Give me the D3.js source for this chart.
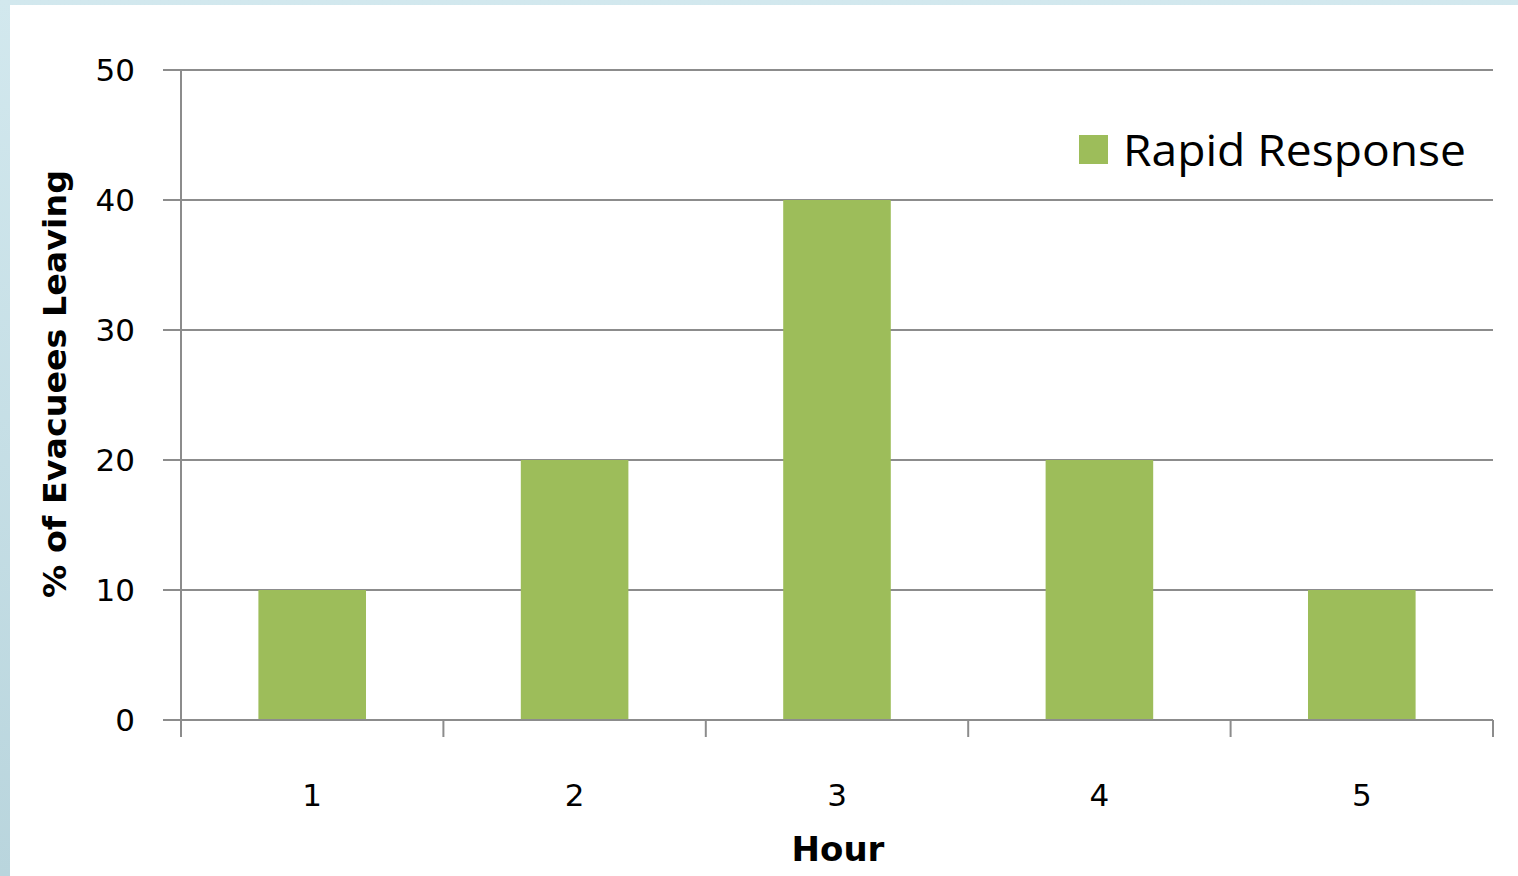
<!DOCTYPE html>
<html>
<head>
<meta charset="utf-8">
<script src="https://cdn.jsdelivr.net/npm/d3@7"></script>
<style>
  html, body { margin: 0; padding: 0; background: #fff; }
  svg { display: block; }
</style>
</head>
<body>
<script>
// Share of evacuees leaving in each hour after the warning
const hours = ["1", "2", "3", "4", "5"];
const rapidResponse = [10, 20, 40, 20, 10];
const yTicks = [0, 10, 20, 30, 40, 50];
const seriesName = "Rapid Response";

const W = 1518, H = 876;
const plot = { left: 181, right: 1493, top: 70, bottom: 720 };

const svg = d3.select("body").append("svg").attr("width", W).attr("height", H);

// light blue frame on the top and left edges
const grad = svg.append("defs").append("linearGradient")
  .attr("id", "frame").attr("x1", 0).attr("y1", 0).attr("x2", 0).attr("y2", 1);
grad.append("stop").attr("offset", "0%").attr("stop-color", "#d2e8ee");
grad.append("stop").attr("offset", "100%").attr("stop-color", "#b9d5dd");
svg.append("rect").attr("x", 0).attr("y", 0).attr("width", W).attr("height", H).attr("fill", "url(#frame)");
svg.append("rect").attr("x", 10).attr("y", 5).attr("width", W - 10).attr("height", H - 5).attr("fill", "#fff");

const x = d3.scaleBand().domain(hours).range([plot.left, plot.right]).paddingInner(0.59).paddingOuter(0.295);
const xb = d3.scaleBand().domain(hours).range([plot.left, plot.right]);
const y = d3.scaleLinear().domain([0, 50]).range([plot.bottom, plot.top]);

const gridColor = "#8c8c8c";

// horizontal gridlines (extending left as tick marks)
svg.append("g").selectAll("line").data(yTicks).join("line")
  .attr("x1", plot.left - 18).attr("x2", plot.right)
  .attr("y1", d => y(d)).attr("y2", d => y(d))
  .attr("stroke", gridColor).attr("stroke-width", 2);

// bars
svg.append("g").selectAll("rect").data(hours).join("rect")
  .attr("x", d => x(d)).attr("width", x.bandwidth())
  .attr("y", (d, i) => y(rapidResponse[i]))
  .attr("height", (d, i) => y(0) - y(rapidResponse[i]))
  .attr("fill", "#9dbd5a");

// vertical axis line
svg.append("line").attr("x1", plot.left).attr("x2", plot.left)
  .attr("y1", plot.top).attr("y2", plot.bottom + 17)
  .attr("stroke", gridColor).attr("stroke-width", 2);

// category boundary ticks
const bounds = hours.map(h => xb(h)).concat([plot.right]);
svg.append("g").selectAll("line").data(bounds.slice(1)).join("line")
  .attr("x1", d => d).attr("x2", d => d)
  .attr("y1", plot.bottom).attr("y2", plot.bottom + 17)
  .attr("stroke", gridColor).attr("stroke-width", 2);

// baseline redrawn over bars
svg.append("line").attr("x1", plot.left - 18).attr("x2", plot.right)
  .attr("y1", y(0)).attr("y2", y(0))
  .attr("stroke", gridColor).attr("stroke-width", 2);

const font = "'DejaVu Sans', sans-serif";

// y tick labels
svg.append("g").selectAll("text").data(yTicks).join("text")
  .attr("x", 135).attr("y", d => y(d) + 11)
  .attr("text-anchor", "end")
  .attr("font-family", font).attr("font-size", 31)
  .attr("fill", "#000").text(d => d);

// x tick labels
svg.append("g").selectAll("text").data(hours).join("text")
  .attr("x", d => xb(d) + xb.bandwidth() / 2).attr("y", 806)
  .attr("text-anchor", "middle")
  .attr("font-family", font).attr("font-size", 31)
  .attr("fill", "#000").text(d => d);

// axis titles
svg.append("text")
  .attr("x", (plot.left + plot.right) / 2 + 1).attr("y", 861)
  .attr("text-anchor", "middle")
  .attr("font-family", font).attr("font-size", 34).attr("font-weight", "bold")
  .attr("fill", "#000").text("Hour");

svg.append("text")
  .attr("transform", "translate(66,384) rotate(-90)")
  .attr("text-anchor", "middle")
  .attr("font-family", font).attr("font-size", 32).attr("font-weight", "bold")
  .attr("textLength", 428).attr("lengthAdjust", "spacingAndGlyphs")
  .attr("fill", "#000").text("% of Evacuees Leaving");

// legend
const legend = svg.append("g");
legend.append("rect").attr("x", 1079).attr("y", 135).attr("width", 29).attr("height", 29).attr("fill", "#9dbd5a");
legend.append("text").attr("x", 1123).attr("y", 166)
  .attr("font-family", "'Open Sans', sans-serif").attr("font-size", 44)
  .attr("textLength", 343).attr("lengthAdjust", "spacingAndGlyphs")
  .attr("fill", "#000").text(seriesName);
</script>
</body>
</html>
